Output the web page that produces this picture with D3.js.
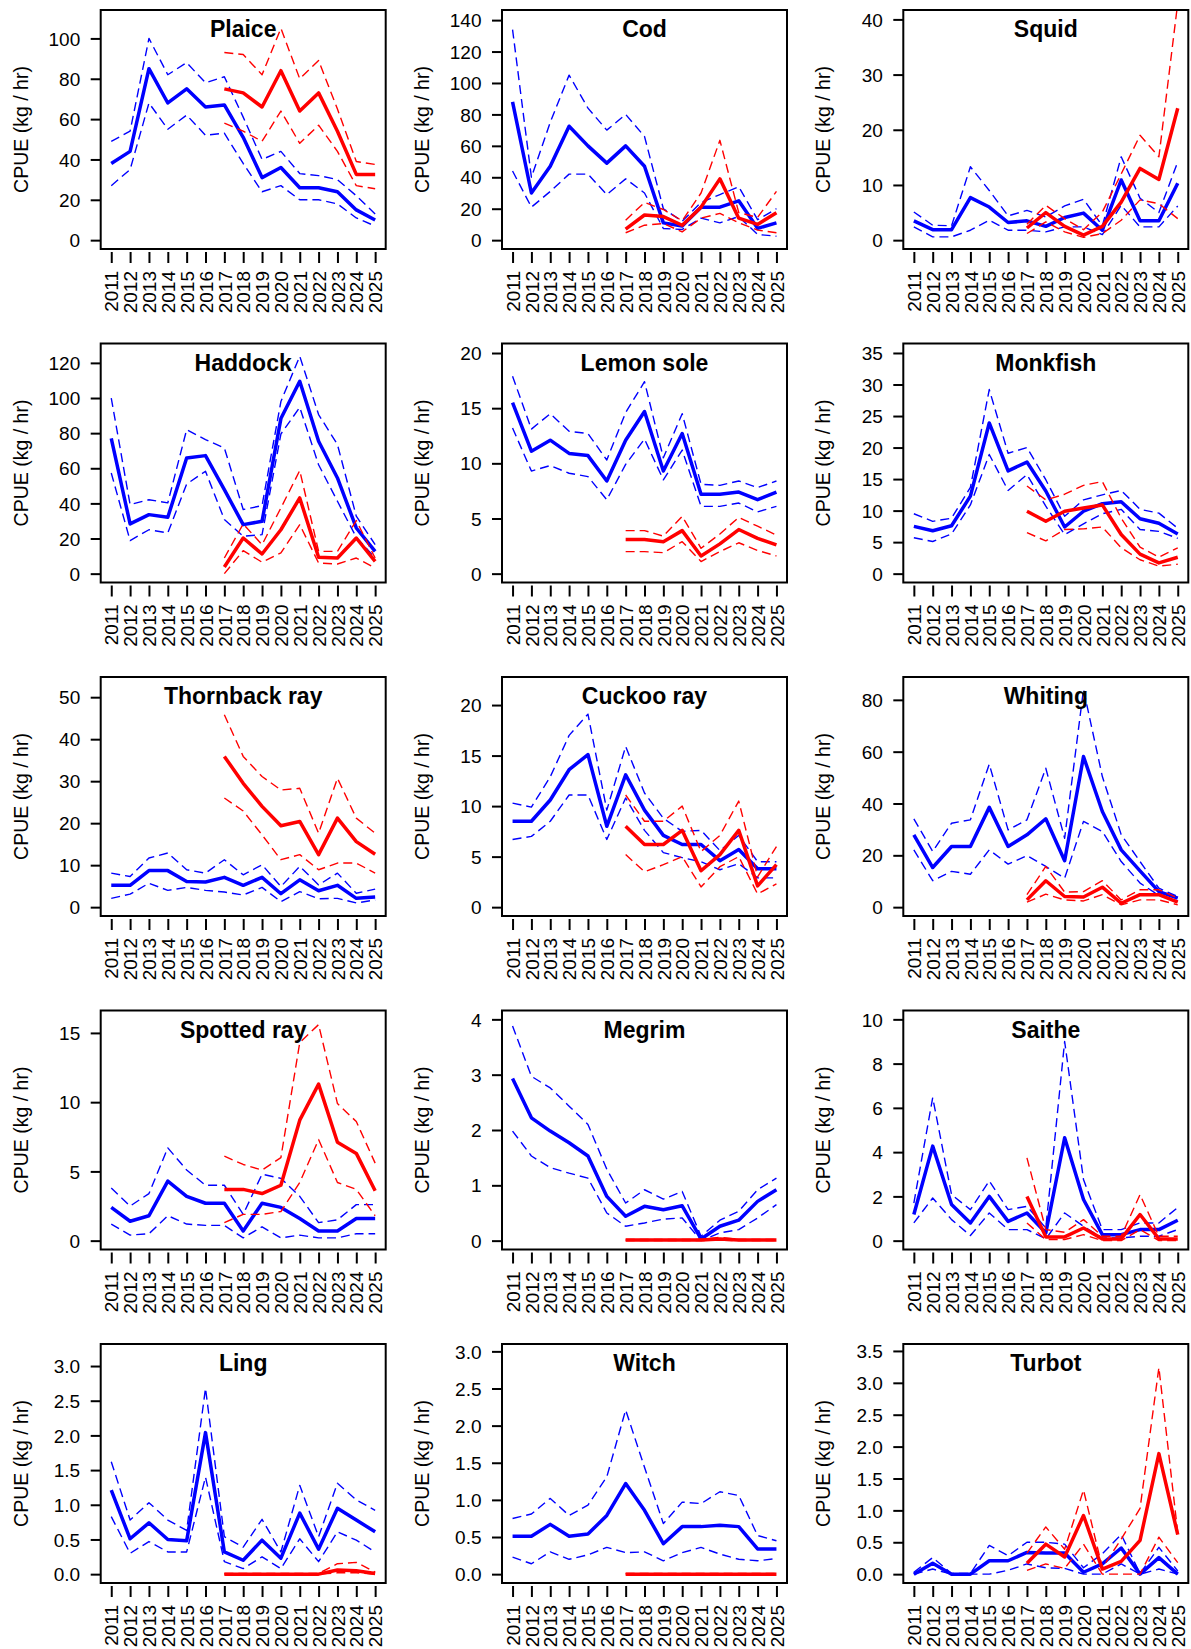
<!DOCTYPE html>
<html>
<head>
<meta charset="utf-8">
<script src="https://cdn.jsdelivr.net/npm/d3@7"></script>
<style>
  body { margin: 0; background: #fff; }
  svg { display: block; }
</style>
</head>
<body>
<svg id="chart" width="1191" height="1649"></svg>
<script>
// CPUE time series by species: full survey (blue, 2011-2025) and
// the second index (red, 2017-2025), each with lower/upper bounds.

const species = ["Plaice", "Cod", "Squid", "Haddock", "Lemon sole", "Monkfish",
  "Thornback ray", "Cuckoo ray", "Whiting", "Spotted ray", "Megrim", "Saithe",
  "Ling", "Witch", "Turbot"];

const years = [2011, 2012, 2013, 2014, 2015, 2016, 2017, 2018, 2019, 2020, 2021, 2022, 2023, 2024, 2025];
const redYears = [2017, 2018, 2019, 2020, 2021, 2022, 2023, 2024, 2025];

const blueMean = [
  [38, 44, 85, 68, 75, 66, 67, 51, 31, 36, 26, 26, 24, 15, 10],
  [88, 30, 47, 72.5, 60, 49, 60, 47, 11, 9, 21, 21, 25, 7.5, 11],
  [3.5, 1.9, 1.9, 7.7, 6.0, 3.2, 3.5, 2.5, 4.1, 4.9, 1.8, 10.9, 3.5, 3.5, 10.3],
  [77, 28.3, 33.6, 32.1, 65.9, 67.2, 47.8, 27.9, 29.8, 88.3, 109.5, 75.4, 54.5, 26, 12.7],
  [15.5, 11.1, 12.1, 10.9, 10.7, 8.4, 12.1, 14.7, 9.3, 12.7, 7.2, 7.2, 7.4, 6.7, 7.4],
  [7.5, 6.8, 7.6, 12.3, 23.9, 16.3, 17.7, 13.1, 7.4, 9.9, 11.1, 11.4, 8.7, 8.0, 6.3],
  [5.2, 5.2, 8.7, 8.7, 6.1, 6.0, 7.1, 5.2, 7.1, 3.2, 6.5, 3.9, 5.2, 2.1, 2.4],
  [8.5, 8.5, 10.6, 13.6, 15.1, 8.0, 13.1, 9.6, 7.1, 6.2, 6.2, 4.6, 5.7, 3.8, 3.8],
  [27.9, 15.3, 23.4, 23.4, 38.5, 23.4, 27.9, 34.1, 17.9, 58.1, 36.9, 22.1, 14.0, 6.0, 3.5],
  [2.4, 1.4, 1.8, 4.3, 3.2, 2.7, 2.7, 0.7, 2.7, 2.4, 1.6, 0.7, 0.7, 1.6, 1.6],
  [2.93, 2.22, 1.98, 1.77, 1.53, 0.80, 0.44, 0.62, 0.56, 0.63, 0.03, 0.26, 0.37, 0.71, 0.92],
  [1.18, 4.27, 1.63, 0.80, 2.0, 0.87, 1.25, 0.35, 4.65, 1.86, 0.27, 0.27, 0.5, 0.5, 0.92],
  [1.21, 0.51, 0.74, 0.50, 0.48, 2.04, 0.32, 0.20, 0.49, 0.23, 0.88, 0.36, 0.95, 0.78, 0.61],
  [0.51, 0.51, 0.67, 0.51, 0.54, 0.79, 1.22, 0.86, 0.41, 0.64, 0.64, 0.66, 0.64, 0.34, 0.34],
  [0, 0.17, 0, 0, 0.21, 0.21, 0.34, 0.33, 0.33, 0.03, 0.16, 0.41, 0, 0.26, 0]
];

const blueHigh = [
  [49, 54, 100, 82, 88, 78, 81, 61, 40, 44, 33, 32, 30, 22, 13],
  [134, 40, 75, 105, 84, 70, 80, 66, 20, 12, 24, 29, 34, 13, 20],
  [5.1, 2.7, 2.6, 13.3, 9, 4.4, 5.4, 4.2, 6.2, 7.4, 2.6, 15.1, 7.6, 5.0, 14.2],
  [100, 39.3, 42.1, 40.3, 82, 76.3, 71.6, 36.5, 38.7, 98, 123.8, 90.6, 73.5, 32.7, 16.5],
  [17.9, 13.1, 14.5, 12.9, 12.7, 10.3, 14.6, 17.4, 10.5, 14.5, 8.1, 8.0, 8.4, 7.8, 8.4],
  [9.5, 8.3, 8.8, 13.7, 29.2, 19.1, 20, 14.9, 9.1, 11.7, 12.5, 13.2, 10.2, 9.6, 7.2],
  [8.1, 7.3, 11.7, 12.9, 8.9, 8.1, 11.3, 7.7, 10.1, 4.9, 9.7, 5.3, 8.1, 3.3, 4.3],
  [10.3, 9.9, 12.9, 17.0, 19.1, 9.6, 15.9, 11.3, 8.8, 7.5, 7.6, 5.6, 7.1, 4.5, 4.5],
  [34.1, 21.5, 32.4, 33.7, 55.2, 29.8, 33.7, 53.6, 26.6, 84, 50.4, 28, 17.6, 7.3, 4.1],
  [3.8, 2.5, 3.4, 6.7, 5.1, 4.0, 4.0, 1.9, 4.8, 4.5, 3.2, 1.3, 1.5, 2.6, 2.6],
  [3.88, 2.97, 2.76, 2.43, 2.10, 1.29, 0.68, 0.92, 0.75, 0.89, 0.08, 0.37, 0.53, 0.92, 1.13],
  [1.7, 6.46, 2.08, 1.4, 2.7, 1.4, 1.55, 0.57, 9.0, 2.76, 0.5, 0.5, 0.8, 0.8, 1.5],
  [1.62, 0.78, 1.03, 0.78, 0.63, 2.68, 0.54, 0.39, 0.79, 0.32, 1.28, 0.54, 1.31, 1.07, 0.92],
  [0.75, 0.81, 1.02, 0.79, 0.93, 1.31, 2.21, 1.44, 0.68, 0.97, 0.95, 1.11, 1.06, 0.52, 0.45],
  [0.03, 0.26, 0.01, 0.01, 0.45, 0.29, 0.5, 0.5, 0.47, 0.1, 0.32, 0.62, 0.01, 0.42, 0.05]
];

const blueLow = [
  [27, 35, 68, 55, 62, 52, 53, 38, 24, 27, 20, 20, 18, 11, 7],
  [44, 21, 31, 42, 42, 29, 39, 30, 7.4, 6.8, 14, 11, 15, 3.6, 2.5],
  [2.4, 0.6, 0.6, 1.8, 3.6, 1.8, 1.8, 1.5, 2.4, 2.4, 1.0, 6.3, 2.4, 2.4, 6.2],
  [57.3, 18.8, 25, 23.2, 51, 58.3, 30.8, 21.3, 22.2, 79.5, 94.7, 62, 41.2, 20.7, 8.9],
  [13.2, 9.3, 9.8, 9.1, 8.8, 6.7, 9.9, 12.2, 8.5, 11.2, 6.1, 6.1, 6.4, 5.6, 6.1],
  [5.7, 5.1, 6.3, 10.9, 18.9, 13.2, 15.7, 10.7, 6.2, 7.9, 9.5, 10.2, 7.0, 6.7, 5.6],
  [2.1, 3.1, 5.7, 4.0, 4.7, 4.0, 3.6, 2.9, 4.7, 1.3, 3.7, 2.0, 2.1, 1.0, 1.7],
  [6.7, 7.0, 8.5, 11.1, 11.1, 6.7, 10.8, 7.6, 5.4, 4.9, 4.5, 3.7, 4.3, 2.9, 2.9],
  [22.1, 10.2, 13.8, 12.7, 22.1, 16.6, 19.9, 15.7, 11.2, 33.1, 29.2, 17.6, 9.3, 4.5, 2.4],
  [1.2, 0.4, 0.5, 1.8, 1.2, 1.1, 1.1, 0.2, 1.0, 0.2, 0.4, 0.2, 0.2, 0.5, 0.5],
  [1.98, 1.53, 1.32, 1.22, 1.13, 0.50, 0.26, 0.32, 0.39, 0.41, 0.0, 0.14, 0.2, 0.41, 0.65],
  [0.8, 1.93, 0.95, 0.23, 1.25, 0.5, 0.5, 0.08, 1.25, 0.65, 0.12, 0.12, 0.2, 0.2, 0.5],
  [0.83, 0.30, 0.47, 0.32, 0.32, 1.40, 0.18, 0.08, 0.25, 0.08, 0.51, 0.18, 0.61, 0.49, 0.32],
  [0.23, 0.14, 0.30, 0.20, 0.26, 0.36, 0.29, 0.30, 0.18, 0.29, 0.36, 0.27, 0.20, 0.18, 0.21],
  [0, 0.08, 0, 0, 0, 0.06, 0.16, 0.1, 0.09, 0, 0, 0.16, 0, 0.08, 0]
];

const redMean = [
  [75, 73, 66, 84, 64, 73, 54, 32.6, 32.6],
  [7, 16, 15, 9.5, 21, 39, 14, 10, 17.5],
  [2.2, 5.0, 2.5, 0.9, 2.5, 6.9, 13, 11, 23.9],
  [3.8, 20.3, 11.2, 25, 43.1, 9.3, 8.9, 20.3, 7],
  [3.1, 3.1, 2.9, 3.9, 1.6, 2.7, 4.0, 3.2, 2.6],
  [9.9, 8.3, 9.9, 10.4, 10.9, 6.2, 3.1, 1.7, 2.6],
  [35.9, 29.5, 24, 19.4, 20.4, 12.5, 21.2, 15.6, 12.6],
  [8.0, 6.2, 6.2, 7.6, 3.6, 5.2, 7.6, 2.1, 4.2],
  [2.8, 10.2, 4.1, 3.9, 7.7, 1.5, 4.8, 4.8, 1.9],
  [3.7, 3.7, 3.4, 4.0, 8.7, 11.3, 7.1, 6.3, 3.6],
  [0.01, 0.01, 0.01, 0.01, 0.01, 0.03, 0.01, 0.01, 0.01],
  [2.0, 0.17, 0.17, 0.57, 0.08, 0.08, 1.18, 0.08, 0.08],
  [0, 0, 0, 0, 0, 0, 0.06, 0.05, 0.01],
  [0, 0, 0, 0, 0, 0, 0, 0, 0],
  [0.17, 0.47, 0.27, 0.92, 0.08, 0.2, 0.53, 1.89, 0.62]
];

const redHigh = [
  [93, 92, 82, 105, 80, 89, 65, 39, 37.5],
  [12.7, 24, 19.5, 12.3, 30, 63.5, 17.5, 14.5, 31],
  [2.9, 6.3, 3.9, 1.9, 5.1, 12, 19, 15.1, 43],
  [8.9, 28.3, 16.5, 37.4, 58.7, 12.7, 12.7, 30.2, 8.9],
  [3.9, 3.9, 3.4, 5.2, 2.3, 3.6, 5.1, 4.3, 3.5],
  [13.9, 11.7, 12.6, 14.0, 14.6, 8.8, 4.2, 2.6, 4.1],
  [45.8, 35.9, 31.1, 27.9, 28.3, 17.6, 30.7, 21.2, 17.6],
  [11.1, 8.5, 8.5, 10.0, 5.5, 7.1, 10.5, 3.0, 6.0],
  [4.8, 15.7, 5.8, 6.0, 10.2, 2.8, 6.7, 6.7, 3.5],
  [6.1, 5.5, 5.1, 6.0, 14.3, 15.6, 9.9, 8.6, 5.6],
  [0.02, 0.02, 0.02, 0.02, 0.02, 0.06, 0.02, 0.02, 0.02],
  [3.74, 0.5, 0.38, 0.95, 0.2, 0.2, 2.08, 0.2, 0.2],
  [0.01, 0.01, 0.01, 0.01, 0.01, 0.01, 0.15, 0.17, 0.03],
  [0.01, 0.01, 0.01, 0.01, 0.01, 0.01, 0.01, 0.01, 0.01],
  [0.33, 0.74, 0.39, 1.32, 0.1, 0.55, 1.03, 3.24, 0.65]
];

const redLow = [
  [58, 54, 49, 64, 48, 57, 44, 27, 25.5],
  [4.7, 9.5, 10.6, 5.3, 14, 17, 11, 6.4, 4.7],
  [1.2, 3.3, 1.5, 0.5, 1.2, 3.6, 7.3, 6.6, 3.9],
  [0, 13.1, 6.5, 11.8, 27.9, 6.1, 5.5, 8.9, 3.2],
  [2.0, 2.0, 1.9, 2.9, 1.1, 2.0, 2.8, 2.1, 1.6],
  [6.5, 5.2, 7.0, 7.1, 7.4, 4.1, 2.2, 1.2, 1.5],
  [26, 22.9, 17.2, 11.3, 12.5, 8.9, 10.5, 10.5, 8.1],
  [5.2, 3.5, 4.2, 5.0, 2.0, 4.0, 5.0, 1.3, 2.3],
  [1.9, 5.0, 2.8, 2.4, 4.8, 0.9, 2.8, 2.8, 0.9],
  [1.3, 1.9, 1.9, 2.1, 4.2, 7.3, 4.2, 3.7, 1.8],
  [0, 0, 0, 0, 0, 0.01, 0, 0, 0],
  [0.8, 0.05, 0.05, 0.27, 0, 0, 0.5, 0, 0],
  [0, 0, 0, 0, 0, 0, 0.02, 0.02, 0],
  [0, 0, 0, 0, 0, 0, 0, 0, 0],
  [0.06, 0.16, 0.09, 0.47, 0, 0, 0, 0.58, 0.18]
];

// upper end of each panel's value range (axis is padded 4% beyond it)
const yMax = [109.7, 140.8, 40.1, 126.0, 20.06, 35.1, 52.7, 21.9, 85.4, 15.98, 4.0, 10.0, 3.19, 2.98, 3.47];

const yTicks = [
  [0, 20, 40, 60, 80, 100],
  [0, 20, 40, 60, 80, 100, 120, 140],
  [0, 10, 20, 30, 40],
  [0, 20, 40, 60, 80, 100, 120],
  [0, 5, 10, 15, 20],
  [0, 5, 10, 15, 20, 25, 30, 35],
  [0, 10, 20, 30, 40, 50],
  [0, 5, 10, 15, 20],
  [0, 20, 40, 60, 80],
  [0, 5, 10, 15],
  [0, 1, 2, 3, 4],
  [0, 2, 4, 6, 8, 10],
  [0, 0.5, 1.0, 1.5, 2.0, 2.5, 3.0],
  [0, 0.5, 1.0, 1.5, 2.0, 2.5, 3.0],
  [0, 0.5, 1.0, 1.5, 2.0, 2.5, 3.0, 3.5]
];
const yDecimals = [0, 0, 0, 0, 0, 0, 0, 0, 0, 0, 0, 0, 1, 1, 1];

const BLUE = "#0000ff", RED = "#ff0000";
const FONT = "'Liberation Sans', Arial, Helvetica, sans-serif";
const boxW = 285, boxH = 239;
const colLeft = c => 100.7 + c * 401.3;
const rowTop = r => 10 + r * 333.5;

const svg = d3.select("#chart");
svg.append("rect").attr("width", 1191).attr("height", 1649).attr("fill", "#fff");

species.forEach((name, i) => {
  const c = i % 3, r = Math.floor(i / 3);
  const g = svg.append("g").attr("transform", `translate(${colLeft(c)},${rowTop(r)})`);

  const pad = 0.04 * (years[years.length - 1] - years[0]);
  const x = d3.scaleLinear()
    .domain([years[0] - pad, years[years.length - 1] + pad])
    .range([0, boxW]);
  const y = d3.scaleLinear()
    .domain([-0.04 * yMax[i], 1.04 * yMax[i]])
    .range([boxH, 0]);

  const clipId = `clip-${i}`;
  g.append("clipPath").attr("id", clipId)
    .append("rect").attr("width", boxW).attr("height", boxH);

  const line = d3.line().x(d => x(d[0])).y(d => y(d[1]));
  const plot = g.append("g").attr("clip-path", `url(#${clipId})`);

  const series = [
    { yrs: years, vals: blueHigh[i], color: BLUE, dashed: true },
    { yrs: years, vals: blueLow[i], color: BLUE, dashed: true },
    { yrs: years, vals: blueMean[i], color: BLUE, dashed: false },
    { yrs: redYears, vals: redHigh[i], color: RED, dashed: true },
    { yrs: redYears, vals: redLow[i], color: RED, dashed: true },
    { yrs: redYears, vals: redMean[i], color: RED, dashed: false }
  ];
  series.forEach(s => {
    plot.append("path")
      .datum(s.yrs.map((yr, k) => [yr, s.vals[k]]))
      .attr("d", line)
      .attr("fill", "none")
      .attr("stroke", s.color)
      .attr("stroke-width", s.dashed ? 1.4 : 3.5)
      .attr("stroke-dasharray", s.dashed ? "9,5" : null)
      .attr("stroke-linejoin", "round");
  });

  // frame
  g.append("rect")
    .attr("width", boxW).attr("height", boxH)
    .attr("fill", "none").attr("stroke", "#000").attr("stroke-width", 2);

  // y axis
  const fmt = yDecimals[i] ? d3.format(".1f") : d3.format("d");
  const ya = g.append("g")
    .call(d3.axisLeft(y).tickValues(yTicks[i]).tickSize(10).tickPadding(10.5).tickFormat(fmt));
  ya.select(".domain").remove();
  ya.selectAll(".tick line").attr("stroke", "#000").attr("stroke-width", 2);
  ya.selectAll(".tick text")
    .attr("font-family", FONT).attr("font-size", 19).attr("fill", "#000")
    .attr("dy", "0.35em");

  // x axis with vertical year labels
  const xa = g.append("g")
    .attr("transform", `translate(0,${boxH + 3})`)
    .call(d3.axisBottom(x).tickValues(years).tickSize(11).tickFormat(d3.format("d")));
  xa.select(".domain").remove();
  xa.selectAll(".tick line").attr("stroke", "#000").attr("stroke-width", 2);
  xa.selectAll(".tick text")
    .attr("font-family", FONT).attr("font-size", 19).attr("fill", "#000")
    .attr("x", 0).attr("y", 0).attr("dy", "0.35em")
    .attr("text-anchor", "end")
    .attr("transform", "translate(0,19) rotate(-90)");

  // y label
  g.append("text")
    .attr("transform", `translate(-73,${boxH / 2}) rotate(-90)`)
    .attr("text-anchor", "middle")
    .attr("font-family", FONT).attr("font-size", 19.5).attr("fill", "#000")
    .text("CPUE (kg / hr)");

  // title
  g.append("text")
    .attr("x", boxW / 2).attr("y", 27)
    .attr("text-anchor", "middle")
    .attr("font-family", FONT).attr("font-size", 23).attr("font-weight", "bold")
    .attr("fill", "#000")
    .text(name);
});
</script>
</body>
</html>
